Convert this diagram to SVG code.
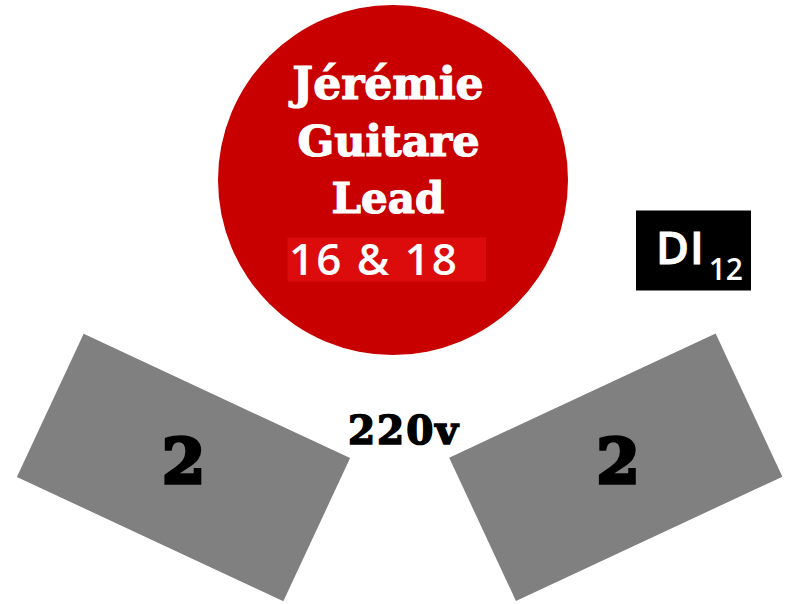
<svg xmlns="http://www.w3.org/2000/svg" width="796" height="604" viewBox="0 0 796 604">
<style>
.title{font-family:"DejaVu Serif",serif;font-weight:bold;fill:#fff;stroke:#fff;stroke-width:1.2;text-anchor:middle}
.heavy{font-family:"DejaVu Serif",serif;font-weight:bold;fill:#000;stroke:#000;text-anchor:middle}
.sans{font-family:"Open Sans","Liberation Sans",sans-serif;font-weight:600;fill:#fff}
.amp{fill:#808080}
</style>
<rect width="796" height="604" fill="#fff"/>
<g id="guitarist">
<circle cx="393" cy="180" r="175" fill="#c80000"/>
<text class="title" x="388" y="99" font-size="44">Jérémie</text>
<text class="title" x="388.5" y="156" font-size="43">Guitare</text>
<text class="title" x="388" y="213" font-size="42">Lead</text>
<rect x="287.5" y="237.5" width="198.5" height="44" fill="#dc0c0c"/>
<text class="sans" x="289" y="275" font-size="44" letter-spacing="2">16 &amp; 18</text>
</g>
<g id="di">
<rect x="636" y="210.5" width="115" height="80" fill="#000"/>
<text class="sans" x="656" y="264" font-size="45" font-weight="700" stroke="#fff" stroke-width="1" letter-spacing="1">DI<tspan font-size="30" y="280" dx="4" stroke-width="0" letter-spacing="0">12</tspan></text>
</g>
<g id="amp-left">
<rect class="amp" x="-147" y="-79" width="294" height="158" transform="translate(183.5 467.5) rotate(25)"/>
<text class="heavy" x="183.5" y="483" font-size="62" stroke-width="3.5">2</text>
</g>
<g id="amp-right">
<rect class="amp" x="-147" y="-79" width="294" height="158" transform="translate(615.8 467.2) rotate(-25)"/>
<text class="heavy" x="618" y="483" font-size="62" stroke-width="3.5">2</text>
</g>
<g id="power">
<text class="heavy" x="404" y="444" font-size="39" stroke-width="1.6" letter-spacing="2">220v</text>
</g>
<g id="connectors"/>
</svg>
